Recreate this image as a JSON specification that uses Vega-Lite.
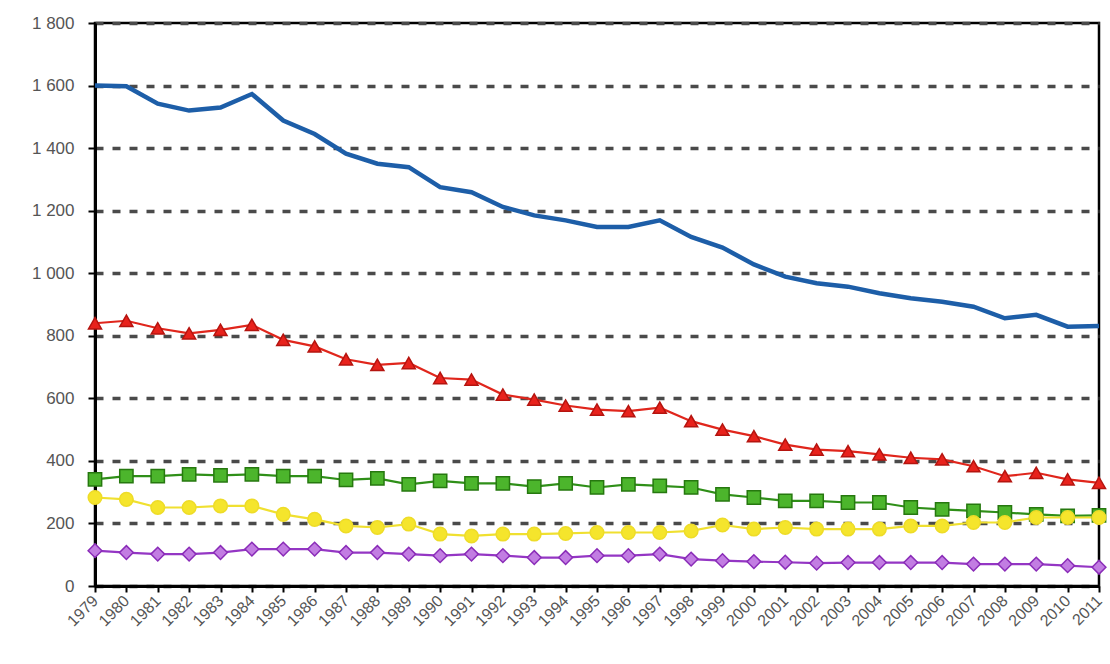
{
  "$schema": "https://vega.github.io/schema/vega-lite/v6.json",
  "width": 1004,
  "height": 563,
  "autosize": {"type": "none"},
  "padding": {"left": 95, "top": 23, "right": 11, "bottom": 78},
  "background": "white",
  "config": {
    "view": {"stroke": "black", "strokeWidth": 2.5},
    "axis": {"labelFont": "Liberation Sans", "labelColor": "#555555", "titleFont": "Liberation Sans"}
  },
  "datasets": {
    "blue": [
      {"year":"1979","value":1600},{"year":"1980","value":1598},{"year":"1981","value":1542},{"year":"1982","value":1520},{"year":"1983","value":1530},{"year":"1984","value":1573},{"year":"1985","value":1488},{"year":"1986","value":1445},{"year":"1987","value":1382},{"year":"1988","value":1350},{"year":"1989","value":1339},{"year":"1990","value":1275},{"year":"1991","value":1259},{"year":"1992","value":1212},{"year":"1993","value":1185},{"year":"1994","value":1169},{"year":"1995","value":1148},{"year":"1996","value":1148},{"year":"1997","value":1169},{"year":"1998","value":1116},{"year":"1999","value":1082},{"year":"2000","value":1028},{"year":"2001","value":989},{"year":"2002","value":968},{"year":"2003","value":957},{"year":"2004","value":936},{"year":"2005","value":920},{"year":"2006","value":909},{"year":"2007","value":893},{"year":"2008","value":856},{"year":"2009","value":867},{"year":"2010","value":829},{"year":"2011","value":831}
    ],
    "others": [
      {"series":"B","year":"1979","value":840},{"series":"B","year":"1980","value":848},{"series":"B","year":"1981","value":824},{"series":"B","year":"1982","value":808},{"series":"B","year":"1983","value":819},{"series":"B","year":"1984","value":835},{"series":"B","year":"1985","value":787},{"series":"B","year":"1986","value":766},{"series":"B","year":"1987","value":725},{"series":"B","year":"1988","value":707},{"series":"B","year":"1989","value":713},{"series":"B","year":"1990","value":665},{"series":"B","year":"1991","value":660},{"series":"B","year":"1992","value":612},{"series":"B","year":"1993","value":596},{"series":"B","year":"1994","value":577},{"series":"B","year":"1995","value":564},{"series":"B","year":"1996","value":559},{"series":"B","year":"1997","value":570},{"series":"B","year":"1998","value":527},{"series":"B","year":"1999","value":500},{"series":"B","year":"2000","value":479},{"series":"B","year":"2001","value":452},{"series":"B","year":"2002","value":436},{"series":"B","year":"2003","value":431},{"series":"B","year":"2004","value":421},{"series":"B","year":"2005","value":410},{"series":"B","year":"2006","value":405},{"series":"B","year":"2007","value":383},{"series":"B","year":"2008","value":351},{"series":"B","year":"2009","value":362},{"series":"B","year":"2010","value":341},{"series":"B","year":"2011","value":330},
      {"series":"C","year":"1979","value":341},{"series":"C","year":"1980","value":351},{"series":"C","year":"1981","value":351},{"series":"C","year":"1982","value":357},{"series":"C","year":"1983","value":354},{"series":"C","year":"1984","value":357},{"series":"C","year":"1985","value":351},{"series":"C","year":"1986","value":351},{"series":"C","year":"1987","value":339},{"series":"C","year":"1988","value":344},{"series":"C","year":"1989","value":325},{"series":"C","year":"1990","value":336},{"series":"C","year":"1991","value":328},{"series":"C","year":"1992","value":328},{"series":"C","year":"1993","value":318},{"series":"C","year":"1994","value":328},{"series":"C","year":"1995","value":315},{"series":"C","year":"1996","value":325},{"series":"C","year":"1997","value":320},{"series":"C","year":"1998","value":315},{"series":"C","year":"1999","value":293},{"series":"C","year":"2000","value":283},{"series":"C","year":"2001","value":272},{"series":"C","year":"2002","value":272},{"series":"C","year":"2003","value":267},{"series":"C","year":"2004","value":267},{"series":"C","year":"2005","value":251},{"series":"C","year":"2006","value":245},{"series":"C","year":"2007","value":240},{"series":"C","year":"2008","value":235},{"series":"C","year":"2009","value":229},{"series":"C","year":"2010","value":224},{"series":"C","year":"2011","value":226},
      {"series":"D","year":"1979","value":283},{"series":"D","year":"1980","value":277},{"series":"D","year":"1981","value":251},{"series":"D","year":"1982","value":251},{"series":"D","year":"1983","value":256},{"series":"D","year":"1984","value":256},{"series":"D","year":"1985","value":229},{"series":"D","year":"1986","value":213},{"series":"D","year":"1987","value":192},{"series":"D","year":"1988","value":187},{"series":"D","year":"1989","value":198},{"series":"D","year":"1990","value":166},{"series":"D","year":"1991","value":160},{"series":"D","year":"1992","value":166},{"series":"D","year":"1993","value":166},{"series":"D","year":"1994","value":168},{"series":"D","year":"1995","value":171},{"series":"D","year":"1996","value":171},{"series":"D","year":"1997","value":171},{"series":"D","year":"1998","value":176},{"series":"D","year":"1999","value":195},{"series":"D","year":"2000","value":182},{"series":"D","year":"2001","value":187},{"series":"D","year":"2002","value":182},{"series":"D","year":"2003","value":182},{"series":"D","year":"2004","value":182},{"series":"D","year":"2005","value":192},{"series":"D","year":"2006","value":192},{"series":"D","year":"2007","value":203},{"series":"D","year":"2008","value":203},{"series":"D","year":"2009","value":219},{"series":"D","year":"2010","value":219},{"series":"D","year":"2011","value":219},
      {"series":"E","year":"1979","value":113},{"series":"E","year":"1980","value":107},{"series":"E","year":"1981","value":102},{"series":"E","year":"1982","value":102},{"series":"E","year":"1983","value":107},{"series":"E","year":"1984","value":118},{"series":"E","year":"1985","value":118},{"series":"E","year":"1986","value":118},{"series":"E","year":"1987","value":107},{"series":"E","year":"1988","value":107},{"series":"E","year":"1989","value":102},{"series":"E","year":"1990","value":97},{"series":"E","year":"1991","value":102},{"series":"E","year":"1992","value":97},{"series":"E","year":"1993","value":91},{"series":"E","year":"1994","value":91},{"series":"E","year":"1995","value":97},{"series":"E","year":"1996","value":97},{"series":"E","year":"1997","value":102},{"series":"E","year":"1998","value":86},{"series":"E","year":"1999","value":81},{"series":"E","year":"2000","value":78},{"series":"E","year":"2001","value":76},{"series":"E","year":"2002","value":73},{"series":"E","year":"2003","value":75},{"series":"E","year":"2004","value":75},{"series":"E","year":"2005","value":75},{"series":"E","year":"2006","value":75},{"series":"E","year":"2007","value":70},{"series":"E","year":"2008","value":70},{"series":"E","year":"2009","value":70},{"series":"E","year":"2010","value":65},{"series":"E","year":"2011","value":60}
    ]
  },
  "encoding": {
    "x": {
      "field": "year", "type": "ordinal",
      "scale": {"type": "point", "padding": 0},
      "axis": {
        "title": null, "labelAngle": -45, "labelAlign": "right", "labelBaseline": "middle",
        "labelFontSize": 16, "labelPadding": 6, "tickSize": 6, "tickWidth": 2, "tickColor": "black",
        "domainColor": "black", "domainWidth": 3, "grid": false
      }
    },
    "y": {
      "field": "value", "type": "quantitative",
      "scale": {"domain": [0, 1800], "nice": false, "zero": true},
      "axis": {
        "title": null, "values": [0, 200, 400, 600, 800, 1000, 1200, 1400, 1600, 1800],
        "labelExpr": "replace(format(datum.value, ',d'), ',', ' ')",
        "labelFontSize": 17, "labelPadding": 14, "tickSize": 7, "tickWidth": 2, "tickColor": "black",
        "domainColor": "black", "domainWidth": 3,
        "grid": true, "gridColor": "#4a4a4a", "gridDash": [8, 9], "gridWidth": 3.5
      }
    }
  },
  "layer": [
    {
      "data": {"name": "blue"},
      "mark": {"type": "line", "color": "#1d5ea8", "strokeWidth": 4.5},
      "encoding": {}
    },
    {
      "data": {"name": "others"},
      "mark": {"type": "line", "strokeWidth": 2.2},
      "encoding": {
        "color": {"field": "series", "type": "nominal", "legend": null,
          "scale": {"domain": ["B", "C", "D", "E"], "range": ["#e0261c", "#2f8f18", "#f0e030", "#9436c4"]}}
      }
    },
    {
      "data": {"name": "others"},
      "mark": {"type": "point", "filled": true, "opacity": 1, "strokeWidth": 1.5},
      "encoding": {
        "shape": {"field": "series", "type": "nominal", "legend": null,
          "scale": {"domain": ["B", "C", "D", "E"], "range": ["triangle-up", "square", "circle", "diamond"]}},
        "fill": {"field": "series", "type": "nominal", "legend": null,
          "scale": {"domain": ["B", "C", "D", "E"], "range": ["#e8221c", "#4cb52c", "#f5e52c", "#c27de2"]}},
        "stroke": {"field": "series", "type": "nominal", "legend": null,
          "scale": {"domain": ["B", "C", "D", "E"], "range": ["#b5140f", "#26780f", "#eedc28", "#8a2cb8"]}},
        "size": {"field": "series", "type": "nominal", "legend": null,
          "scale": {"domain": ["B", "C", "D", "E"], "range": [170, 190, 200, 110]}}
      }
    }
  ]
}
